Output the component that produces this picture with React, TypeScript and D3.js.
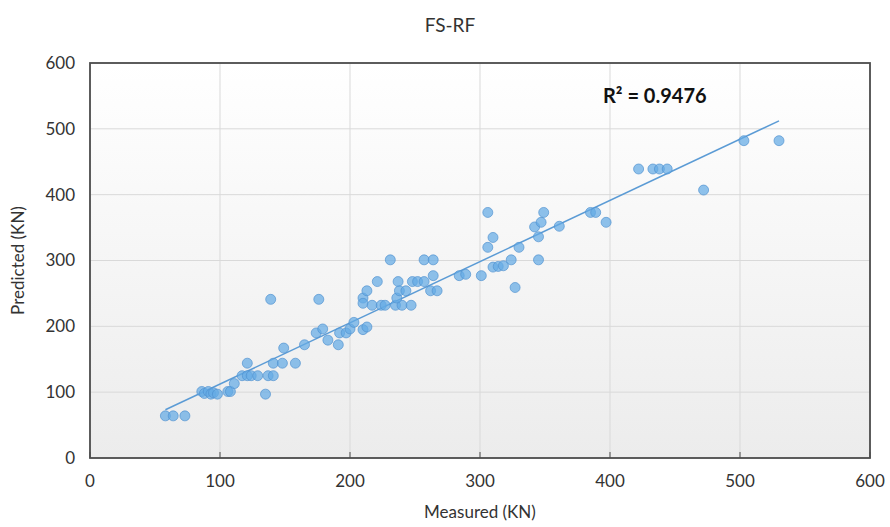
import { useEffect, useRef } from 'react';
import * as d3 from 'd3';

const chartTitle = 'FS-RF';
const xTitle = 'Measured (KN)';
const yTitle = 'Predicted (KN)';
const r2Text = 'R² = 0.9476';

// values
const measured = [
  58, 64, 73, 86, 88, 91, 93, 95, 98, 106, 108, 111, 117, 121, 124, 129, 121, 135, 137, 141,
  141, 148, 158, 149, 165, 174, 179, 183, 191, 192, 197, 200, 203, 210, 213, 139, 176, 210, 210, 213,
  217, 221, 224, 227, 235, 240, 236, 237, 238, 243, 247, 248, 252, 257, 262, 267, 231, 257, 264, 264,
  284, 289, 301, 306, 306, 310, 310, 314, 318, 324, 327, 330, 342, 345, 345, 347, 349, 361, 385, 389,
  397, 422, 433, 438, 444, 472, 503, 530,
];
const predicted = [
  64, 64, 64, 101, 98, 101, 97, 99, 97, 101, 101, 113, 125, 125, 125, 125, 144, 97, 125, 125,
  144, 144, 144, 167, 172, 190, 196, 179, 172, 190, 190, 196, 206, 195, 199, 241, 241, 243, 235, 254,
  232, 268, 232, 232, 232, 232, 243, 268, 254, 254, 232, 268, 268, 268, 254, 254, 301, 301, 301, 277,
  277, 279, 277, 373, 320, 335, 290, 291, 292, 301, 259, 320, 351, 336, 301, 358, 373, 352, 373, 373,
  358, 439, 439, 439, 439, 407, 482, 482,
];
const xTicks = [0, 100, 200, 300, 400, 500, 600];
const yTicks = [0, 100, 200, 300, 400, 500, 600];

export default function App() {
  const svgRef = useRef<SVGSVGElement>(null);

  useEffect(() => {
    if (!svgRef.current) return;
    const width = 890;
    const height = 527;
    const svg = d3.select(svgRef.current);
    svg.selectAll('*').remove();

    const margin = { top: 63, right: 20, bottom: 69, left: 90 };
    const innerWidth = width - margin.left - margin.right;
    const innerHeight = height - margin.top - margin.bottom;
    const font = 'Lato, "Open Sans", sans-serif';

    const xScale = d3.scaleLinear().domain([0, 600]).range([0, innerWidth]);
    const yScale = d3.scaleLinear().domain([0, 600]).range([innerHeight, 0]);

    // plot area background fades from white to light grey
    const defs = svg.append('defs');
    const bg = defs.append('linearGradient')
      .attr('id', 'plot-bg')
      .attr('x1', '0%').attr('y1', '0%')
      .attr('x2', '0%').attr('y2', '100%');
    bg.append('stop').attr('offset', '0%').attr('stop-color', '#ffffff');
    bg.append('stop').attr('offset', '100%').attr('stop-color', '#ececec');

    const g = svg.append('g').attr('transform', `translate(${margin.left},${margin.top})`);

    g.append('rect')
      .attr('width', innerWidth)
      .attr('height', innerHeight)
      .attr('fill', 'url(#plot-bg)');

    // grid lines
    g.selectAll('.grid-h')
      .data(yTicks)
      .enter()
      .append('line')
      .attr('class', 'grid-h')
      .attr('x1', 0)
      .attr('x2', innerWidth)
      .attr('y1', (d) => yScale(d))
      .attr('y2', (d) => yScale(d))
      .attr('stroke', '#d9d9d9')
      .attr('stroke-width', 1);

    g.selectAll('.grid-v')
      .data(xTicks)
      .enter()
      .append('line')
      .attr('class', 'grid-v')
      .attr('x1', (d) => xScale(d))
      .attr('x2', (d) => xScale(d))
      .attr('y1', 0)
      .attr('y2', innerHeight)
      .attr('stroke', '#d9d9d9')
      .attr('stroke-width', 1);

    // frame
    g.append('rect')
      .attr('width', innerWidth)
      .attr('height', innerHeight)
      .attr('fill', 'none')
      .attr('stroke', '#4d4d4d')
      .attr('stroke-width', 1.8);

    // small inward ticks on the bottom axis
    g.selectAll('.tick-x')
      .data(xTicks)
      .enter()
      .append('line')
      .attr('x1', (d) => xScale(d))
      .attr('x2', (d) => xScale(d))
      .attr('y1', innerHeight)
      .attr('y2', innerHeight - 6)
      .attr('stroke', '#4d4d4d')
      .attr('stroke-width', 1);

    // tick labels
    g.selectAll('.label-x')
      .data(xTicks)
      .enter()
      .append('text')
      .attr('x', (d) => xScale(d))
      .attr('y', innerHeight + 29)
      .attr('text-anchor', 'middle')
      .attr('font-family', font)
      .attr('font-size', 17)
      .attr('fill', '#333333')
      .text((d) => d);

    g.selectAll('.label-y')
      .data(yTicks)
      .enter()
      .append('text')
      .attr('x', -15)
      .attr('y', (d) => yScale(d))
      .attr('dy', '0.35em')
      .attr('text-anchor', 'end')
      .attr('font-family', font)
      .attr('font-size', 17)
      .attr('fill', '#333333')
      .text((d) => d);

    // least squares trend line
    const points = measured.map((m, i) => ({ x: m, y: predicted[i] }));
    const mx = d3.mean(points, (d) => d.x) as number;
    const my = d3.mean(points, (d) => d.y) as number;
    const sxy = d3.sum(points, (d) => (d.x - mx) * (d.y - my));
    const sxx = d3.sum(points, (d) => (d.x - mx) * (d.x - mx));
    const slope = sxy / sxx;
    const intercept = my - slope * mx;
    const [minX, maxX] = d3.extent(measured) as [number, number];

    const line = d3.line<number>()
      .x((d) => xScale(d))
      .y((d) => yScale(intercept + slope * d));

    g.append('path')
      .datum([minX, maxX])
      .attr('fill', 'none')
      .attr('stroke', '#5b9bd5')
      .attr('stroke-width', 1.5)
      .attr('d', line);

    // scatter points
    g.selectAll('.dot')
      .data(points)
      .enter()
      .append('circle')
      .attr('cx', (d) => xScale(d.x))
      .attr('cy', (d) => yScale(d.y))
      .attr('r', 5)
      .attr('fill', 'rgba(100, 170, 228, 0.72)')
      .attr('stroke', 'rgba(80, 145, 208, 0.85)')
      .attr('stroke-width', 0.8);

    g.append('text')
      .attr('x', 513)
      .attr('y', 40)
      .attr('font-family', font)
      .attr('font-size', 20)
      .attr('font-weight', 'bold')
      .attr('fill', '#111111')
      .text(r2Text);

    // titles
    svg.append('text')
      .attr('x', 450)
      .attr('y', 32)
      .attr('text-anchor', 'middle')
      .attr('font-family', font)
      .attr('font-size', 19)
      .attr('fill', '#333333')
      .text(chartTitle);

    svg.append('text')
      .attr('x', margin.left + innerWidth / 2)
      .attr('y', 518)
      .attr('text-anchor', 'middle')
      .attr('font-family', font)
      .attr('font-size', 17)
      .attr('fill', '#333333')
      .text(xTitle);

    svg.append('text')
      .attr('transform', `translate(24, ${margin.top + innerHeight / 2}) rotate(-90)`)
      .attr('text-anchor', 'middle')
      .attr('font-family', font)
      .attr('font-size', 17)
      .attr('fill', '#333333')
      .text(yTitle);
  }, []);

  return (
    <svg
      ref={svgRef}
      width={890}
      height={527}
      style={{ position: 'absolute', left: 0, top: 0, background: '#ffffff', display: 'block' }}
    />
  );
}
